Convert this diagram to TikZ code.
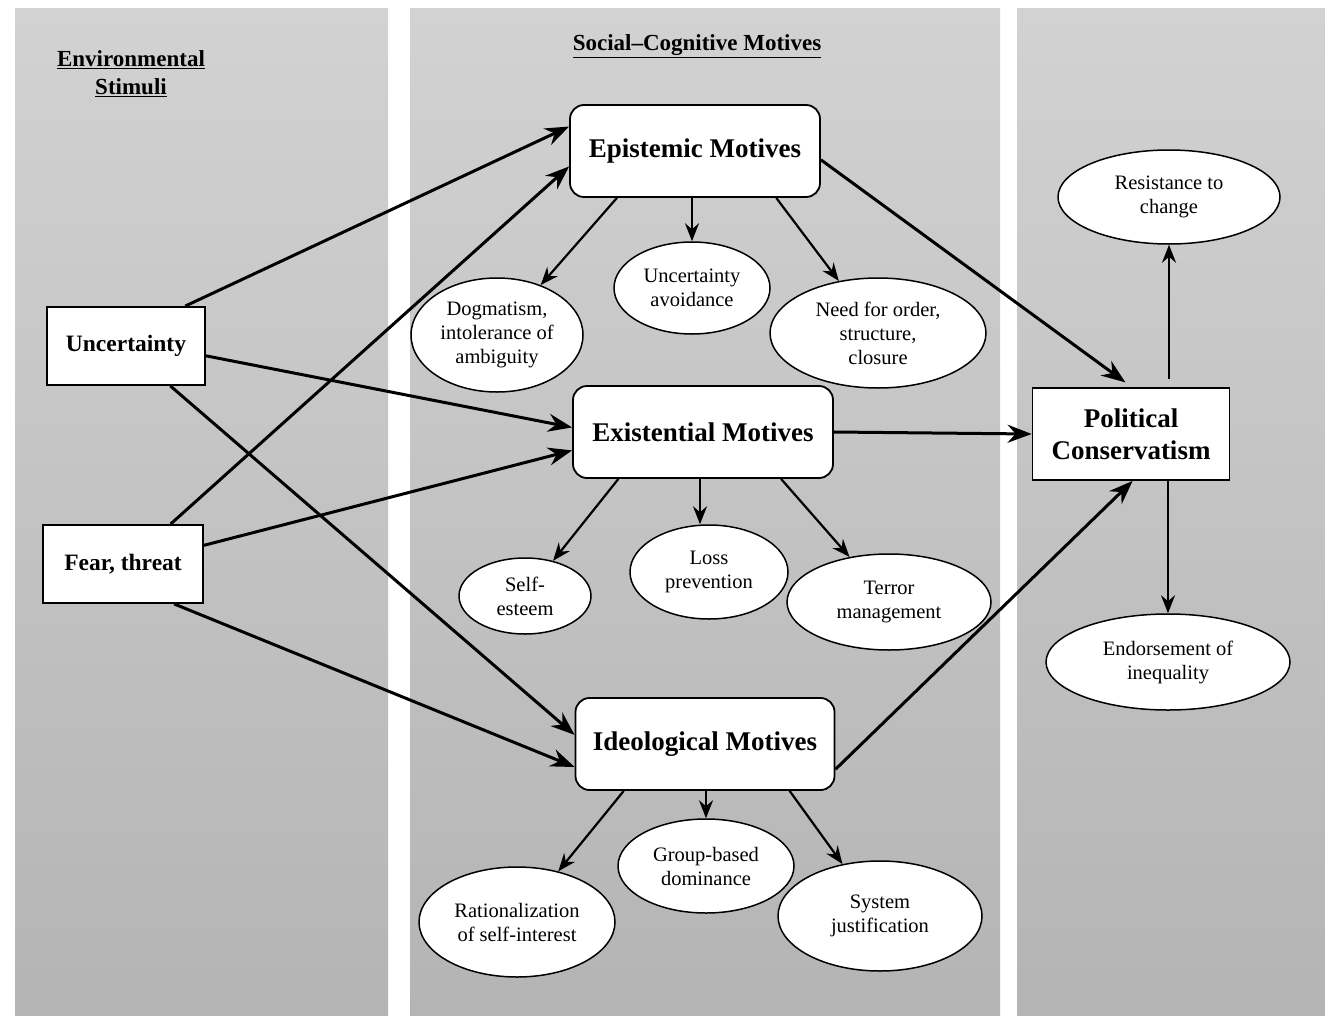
\documentclass[tikz,border=0pt]{standalone}
\usepackage{fontspec}
\setmainfont{Liberation Serif}
\usetikzlibrary{arrows.meta,shapes.geometric,calc}
\definecolor{paneltop}{RGB}{210,210,210}
\definecolor{panelbot}{RGB}{180,180,180}
\tikzset{
  panel/.style={top color=paneltop,bottom color=panelbot,draw=none},
  hdr/.style={font=\bfseries\fontsize{23}{28}\selectfont,align=center,inner sep=0pt},
  motive/.style={draw,line width=1.8pt,fill=white,rounded corners=14pt,minimum width=#1,minimum height=92pt,inner sep=0pt,font=\bfseries\fontsize{27}{32}\selectfont},
  stim/.style={draw,line width=1.8pt,fill=white,minimum width=#1,minimum height=78pt,inner sep=0pt,font=\bfseries\fontsize{23.5}{28}\selectfont,align=center},
  oval/.style n args={2}{draw,line width=1.5pt,fill=white,ellipse,minimum width=#1,minimum height=#2,inner sep=0pt,align=center,font=\fontsize{20.5}{24}\selectfont},
  arr/.style={line width=3pt,-{Stealth[length=24pt,width=18pt,inset=8pt]}},
  sarr/.style={line width=2.2pt,-{Stealth[length=18pt,width=14pt,inset=6pt]}},
}
\begin{document}
\begin{tikzpicture}[x=1pt,y=-1pt]
\useasboundingbox (0,0) rectangle (1325,1017);
\fill[white] (0,0) rectangle (1325,1017);
% panels
\path[panel] (15,8) rectangle (388,1015);
\path[panel] (410,8) rectangle (1000,1015);
\path[panel] (1017,8) rectangle (1325,1015);
% headers
\node[hdr] (hEnv) at (131,74) {\underline{Environmental}\\\underline{Stimuli}};
\node[hdr] (hSoc) at (697,46) {\underline{Social–Cognitive Motives}};
% stimuli
\node[stim=158pt] (unc) at (126,346) {Uncertainty};
\node[stim=160pt] (fear) at (123,564) {Fear, threat};
% motives
\node[motive=250pt] (epi) at (695,151) {\raisebox{3pt}{Epistemic Motives}};
\node[motive=260pt] (exi) at (703,432) {Existential Motives};
\node[motive=259pt] (ideo) at (705,744) {Ideological Motives};
% political
\node[draw,line width=1.8pt,fill=white,minimum width=197pt,minimum height=92pt,inner sep=0pt,align=center,font=\bfseries\fontsize{27}{32}\selectfont] (pol) at (1131,434) {Political\\Conservatism};
% ellipses
\node[oval={172pt}{114pt}] (dog) at (497,335) {Dogmatism,\\intolerance of\\ambiguity};
\node[oval={156pt}{92pt}] (unca) at (692,288) {Uncertainty\\avoidance};
\node[oval={216pt}{110pt}] (need) at (878,333) {Need for order,\\structure,\\closure};
\node[oval={132pt}{76pt}] (self) at (525,596) {Self-\\esteem};
\node[oval={158pt}{94pt}] (loss) at (709,572) {Loss\\prevention};
\node[oval={204pt}{96pt}] (terr) at (889,602) {Terror\\management};
\node[oval={196pt}{110pt}] (rat) at (517,922) {Rationalization\\of self-interest};
\node[oval={176pt}{94pt}] (grp) at (706,866) {Group-based\\dominance};
\node[oval={204pt}{110pt}] (sys) at (880,916) {System\\justification};
\node[oval={222pt}{94pt}] (res) at (1169,197) {Resistance to\\change};
\node[oval={244pt}{96pt}] (endo) at (1168,662) {Endorsement of\\inequality};
% main arrows
\draw[arr] (unc.34) -- (epi.169);
\draw[arr] (fear.40) -- (epi.187);
\draw[arr] (unc.-7) -- (exi.178);
\draw[arr] (fear.13) -- (exi.188);
\draw[arr] (unc.-42) -- (ideo.176);
\draw[arr] (fear.-38) -- (ideo.190);
\draw[arr,shorten >=8pt] (epi.-4) -- (pol.89);
\draw[arr] (exi.0) -- (pol.180);
\draw[arr] (ideo.-11) -- (pol.-88);
% sub arrows
\draw[sarr] (epi.-149) -- (dog);
\draw[sarr] (epi.south -| unca.north) -- (unca.north);
\draw[sarr] (epi.-30) -- (need);
\draw[sarr] (exi.-151) -- (self);
\draw[sarr] (exi.south -| 700,0) -- (loss.north -| 700,0);
\draw[sarr] (exi.-31) -- (terr);
\draw[sarr] (ideo.-150) -- (rat);
\draw[sarr] (ideo.south -| grp.north) -- (grp.north);
\draw[sarr] (ideo.-29) -- (sys);
\draw[sarr,shorten <=8pt] (pol.north -| res.south) -- (res.south);
\draw[sarr] (pol.south -| endo.north) -- (endo.north);
\end{tikzpicture}
\end{document}
